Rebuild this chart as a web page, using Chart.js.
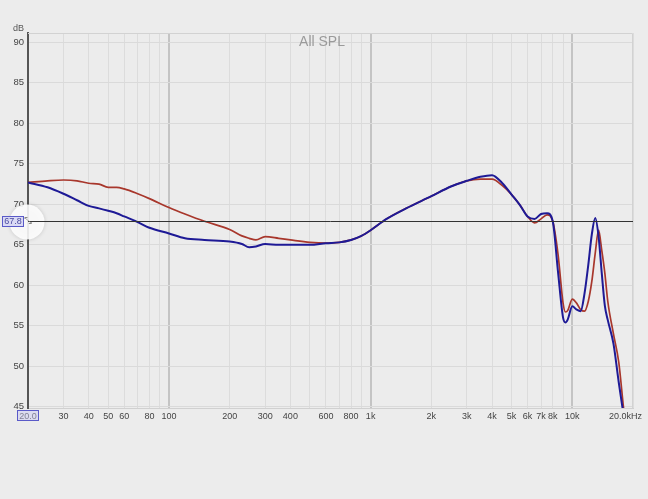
<!DOCTYPE html>
<html>
<head>
<meta charset="utf-8">
<script src="https://cdn.jsdelivr.net/npm/chart.js@4/dist/chart.umd.min.js"></script>
<style>
    html, body { margin: 0; padding: 0; background: #ececec; }
    #wrap { width: 648px; height: 499px; position: relative; }
</style>
</head>
<body>
<div id="wrap"><canvas id="splChart" width="648" height="499"></canvas></div>
<script>
// Frequency points (Hz) shared by both traces
const freqs = [20, 25, 30, 35, 40, 45, 50, 55, 60, 70, 80, 100, 120, 150, 200, 230, 250, 270, 300, 350,
    400, 500, 600, 700, 800, 900, 1000, 1200, 1500, 2000, 2500, 3000, 3500, 4000, 4500, 5000, 5500, 6000,
    6500, 7000, 7500, 8000, 8500, 9000, 9250, 9500, 10000, 10500, 11000, 11500, 12000, 12500, 13000, 13500,
    14000, 14500, 15000, 16000, 17000, 18000, 19000];

// Red trace (dB)
const redDb = [72.7, 72.9, 73.0, 72.9, 72.6, 72.5, 72.1, 72.1, 71.9, 71.3, 70.7, 69.6, 68.8, 67.9, 66.9, 66.1, 65.8, 65.6, 66.0, 65.8,
    65.6, 65.3, 65.2, 65.3, 65.6, 66.1, 66.8, 68.2, 69.5, 71.0, 72.2, 72.9, 73.1, 73.1, 72.3, 71.2, 69.9, 68.5,
    67.7, 68.2, 68.7, 67.9, 63.8, 57.8, 56.7, 56.9, 58.3, 57.8, 57.0, 56.8, 58.0, 60.5, 64.0, 66.8,
    64.3, 61.5, 58.0, 54.0, 50.5, 44.6, 40.0];

// Blue trace (dB)
const blueDb = [72.7, 72.1, 71.3, 70.5, 69.8, 69.5, 69.2, 68.9, 68.5, 67.8, 67.1, 66.4, 65.8, 65.6, 65.4, 65.1, 64.7, 64.8, 65.1, 65.0,
    65.0, 65.0, 65.2, 65.3, 65.6, 66.1, 66.8, 68.2, 69.5, 71.0, 72.2, 72.9, 73.4, 73.6, 72.6, 71.2, 69.9, 68.5,
    68.2, 68.8, 68.9, 67.9, 61.6, 56.0, 55.4, 55.8, 57.4, 57.0, 56.8, 59.0, 62.5, 66.3, 68.3, 66.0,
    61.5, 57.5, 55.7, 52.8, 48.0, 43.8, 40.0];

// Axis ticks
const gridFreqs = [20, 30, 40, 50, 60, 70, 80, 90, 100, 200, 300, 400, 500, 600, 700, 800, 900,
    1000, 2000, 3000, 4000, 5000, 6000, 7000, 8000, 9000, 10000, 20000];
const labelFreqs = [20, 30, 40, 50, 60, 80, 100, 200, 300, 400, 600, 800, 1000, 2000, 3000, 4000, 5000, 6000, 7000, 8000, 10000, 20000];
const freqLabels = ['20.0', '30', '40', '50', '60', '80', '100', '200', '300', '400', '600', '800', '1k', '2k', '3k', '4k', '5k', '6k', '7k', '8k', '10k', '20.0kHz      '];
const dbTicks = [45, 50, 55, 60, 65, 70, 75, 80, 85, 90];

const refLevel = 67.9;
const refLabel = '67.8';

const toPoints = (ys) => freqs.map((f, i) => ({ x: f, y: ys[i] }));

// Extra drawing: frame, title, reference line, cursor marks
const overlay = {
    id: 'overlay',
    beforeDatasetsDraw(chart) {
        const { ctx, chartArea: a } = chart;
        ctx.save();
        ctx.strokeStyle = '#d2d2d2';
        ctx.lineWidth = 1;
        ctx.beginPath();
        ctx.moveTo(a.left, a.top + 0.5);
        ctx.lineTo(a.right - 0.5, a.top + 0.5);
        ctx.lineTo(a.right - 0.5, a.bottom);
        ctx.stroke();
        ctx.fillStyle = '#9a9a9a';
        ctx.font = '14px "Liberation Sans", Arial, sans-serif';
        ctx.textAlign = 'center';
        ctx.textBaseline = 'middle';
        ctx.fillText('All SPL', 322, 42);
        ctx.restore();
    },
    afterDraw(chart) {
        const { ctx, chartArea: a, scales } = chart;
        const yRef = Math.round(scales.y.getPixelForValue(refLevel)) + 0.5;
        ctx.save();
        // cursor circle
        ctx.shadowColor = 'rgba(0,0,0,0.18)';
        ctx.shadowBlur = 4;
        ctx.fillStyle = 'rgba(255,255,255,0.88)';
        ctx.beginPath();
        ctx.arc(27, 222, 17.5, 0, Math.PI * 2);
        ctx.fill();
        ctx.shadowColor = 'transparent';
        ctx.shadowBlur = 0;
        // reference line
        ctx.strokeStyle = '#333';
        ctx.lineWidth = 1;
        ctx.beginPath();
        ctx.moveTo(a.left, yRef);
        ctx.lineTo(a.right, yRef);
        ctx.stroke();
        // level box
        ctx.fillStyle = 'rgba(215,215,245,0.9)';
        ctx.fillRect(2, yRef - 5.5, 22, 11);
        ctx.strokeStyle = '#5a5ac8';
        ctx.strokeRect(2.5, yRef - 5, 21, 10);
        ctx.fillStyle = '#4a4aa0';
        ctx.font = '9px "Liberation Sans", Arial, sans-serif';
        ctx.textAlign = 'center';
        ctx.textBaseline = 'middle';
        ctx.fillText(refLabel, 13, yRef);
        ctx.fillStyle = '#888';
        ctx.font = '10px "DejaVu Sans", sans-serif';
        ctx.fillText('⤡', 28, yRef);
        // 20.0 marker box
        const x20 = scales.x.getPixelForValue(20);
        ctx.fillStyle = 'rgba(200,200,245,0.45)';
        ctx.fillRect(x20 - 10, 411, 20, 9);
        ctx.strokeStyle = '#5a5ac8';
        ctx.strokeRect(x20 - 10.5, 410.5, 21, 10);
        // dB unit label
        ctx.fillStyle = '#555';
        ctx.font = '9px "Liberation Sans", Arial, sans-serif';
        ctx.textAlign = 'right';
        ctx.fillText('dB', 24, 29);
        ctx.restore();
    }
};

const ctx = document.getElementById('splChart').getContext('2d');
const splChart = new Chart(ctx, {
    type: 'line',
    data: {
        datasets: [
            {
                label: 'Blue',
                data: toPoints(blueDb),
                borderColor: '#1e1a96',
                borderWidth: 2,
                pointRadius: 0,
                cubicInterpolationMode: 'monotone',
                order: 0
            },
            {
                label: 'Red',
                data: toPoints(redDb),
                borderColor: '#a8372c',
                borderWidth: 1.7,
                pointRadius: 0,
                cubicInterpolationMode: 'monotone',
                order: 1
            }
        ]
    },
    plugins: [overlay],
    options: {
        responsive: false,
        animation: false,
        events: [],
        layout: { padding: { top: 33, right: 15, bottom: 71, left: 0 } },
        plugins: {
            legend: { display: false },
            tooltip: { enabled: false },
            title: { display: false }
        },
        scales: {
            x: {
                type: 'logarithmic',
                min: 20,
                max: 20000,
                afterBuildTicks: (scale) => { scale.ticks = gridFreqs.map(v => ({ value: v })); },
                afterFit: (scale) => { scale.height = 20; scale.paddingLeft = 0; scale.paddingRight = 0; },
                grid: {
                    drawTicks: false,
                    color: (c) => [100, 1000, 10000].includes(c.tick && c.tick.value) ? '#c4c4c4' : '#dcdcdc',
                    lineWidth: (c) => [100, 1000, 10000].includes(c.tick && c.tick.value) ? 2 : 1
                },
                border: { color: '#d0d0d0', width: 1 },
                ticks: {
                    autoSkip: false,
                    maxRotation: 0,
                    padding: 3,
                    color: '#444',
                    font: { family: '"Liberation Sans", Arial, sans-serif', size: 9 },
                    callback: (value) => {
                        const i = labelFreqs.indexOf(value);
                        return i >= 0 ? freqLabels[i] : '';
                    }
                }
            },
            y: {
                min: 44.85,
                max: 91.15,
                afterBuildTicks: (scale) => { scale.ticks = dbTicks.map(v => ({ value: v })); },
                afterFit: (scale) => { scale.width = 28; },
                grid: { drawTicks: false, color: '#dadada', lineWidth: 1 },
                border: { color: '#555', width: 2 },
                ticks: {
                    padding: 4,
                    color: '#444',
                    font: { family: '"Liberation Sans", Arial, sans-serif', size: 9.5 }
                }
            }
        }
    }
});
</script>
</body>
</html>
